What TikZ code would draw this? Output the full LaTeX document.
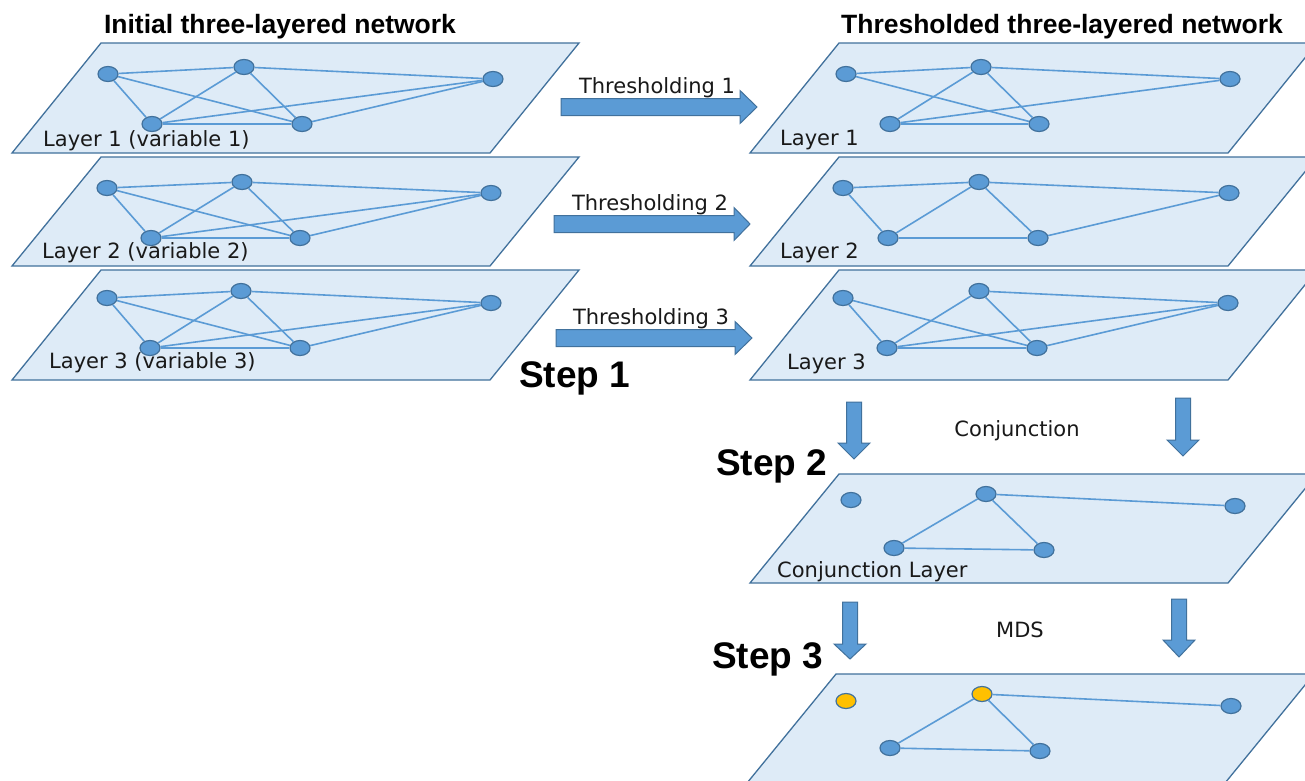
\documentclass[tikz,border=0pt]{standalone}
\usepackage{fontspec}
\setmainfont{DejaVu Sans}
\newfontfamily\titlefont{Liberation Sans}
\usetikzlibrary{shapes.geometric}
\definecolor{layerfill}{HTML}{DEEBF7}
\definecolor{layerline}{HTML}{41719C}
\definecolor{edgeblue}{HTML}{5B9BD5}
\definecolor{nodeblue}{HTML}{5B9BD5}
\definecolor{nodeline}{HTML}{41719C}
\definecolor{mdsyellow}{HTML}{FFC000}
\newcommand{\harr}[4]{\draw[blockarrow] (#1,#4-8.5) -- (#2,#4-8.5) -- (#2,#4-16.5) -- (#3,#4) -- (#2,#4+16.5) -- (#2,#4+8.5) -- (#1,#4+8.5) -- cycle;}
\newcommand{\varr}[4]{\draw[blockarrow] (#1-7.5,#2) -- (#1+7.5,#2) -- (#1+7.5,#3) -- (#1+16,#3) -- (#1,#4) -- (#1-16,#3) -- (#1-7.5,#3) -- cycle;}
\newcommand{\plate}[3]{\draw[layer] (#1,#2) -- (#1+478,#2) -- (#1+478-89,#3) -- (#1-89,#3) -- cycle;}
\begin{document}
\begin{tikzpicture}[x=1pt,y=-1pt,
 layer/.style={fill=layerfill, draw=layerline, line width=1.3pt, line join=miter},
 vert/.style={ellipse, fill=nodeblue, draw=nodeline, line width=1.2pt, minimum width=20pt, minimum height=15pt, inner sep=0pt},
 sel/.style={vert, fill=mdsyellow},
 edge/.style={draw=edgeblue, line width=1.6pt},
 blockarrow/.style={fill=nodeblue, draw=nodeline, line width=1pt, line join=miter},
 lbl/.style={font=\fontsize{21}{24}\selectfont, inner sep=0pt, text=black!90},
 title/.style={font=\titlefont\bfseries\fontsize{26.5}{30}\selectfont, inner sep=0pt},
 steplbl/.style={font=\titlefont\bfseries\fontsize{37}{42}\selectfont, inner sep=0pt, anchor=base west},
]
\path[clip] (0,0) rectangle (1305,780);
\fill[white] (0,0) rectangle (1305,780);

% titles
\node[title] (t1) at (280,27) {Initial three-layered network};
\node[title] (t2) at (1062,27) {Thresholded three-layered network};

% plates
\plate{101}{43}{153}
\plate{101}{157}{266}
\plate{101}{270}{380}
\plate{839}{43}{153}
\plate{839}{157}{266}
\plate{839}{270}{380}
\plate{839}{474}{583}
\plate{836}{674}{783}

% left layer 1
\node[vert] (A1a) at (108,74) {};
\node[vert] (A1b) at (244,67) {};
\node[vert] (A1e) at (493,79) {};
\node[vert] (A1c) at (152,124) {};
\node[vert] (A1d) at (302,124) {};
% left layer 2
\node[vert] (A2a) at (107,188) {};
\node[vert] (A2b) at (242,182) {};
\node[vert] (A2e) at (491,193) {};
\node[vert] (A2c) at (151,238) {};
\node[vert] (A2d) at (300,238) {};
% left layer 3
\node[vert] (A3a) at (107,298) {};
\node[vert] (A3b) at (241,291) {};
\node[vert] (A3e) at (491,303) {};
\node[vert] (A3c) at (150,348) {};
\node[vert] (A3d) at (300,348) {};
\foreach \L in {A1,A2,A3}{
  \foreach \u/\v in {a/b,a/c,a/d,b/c,b/d,b/e,c/d,c/e,d/e}
    \draw[edge] (\L\u) -- (\L\v);
}

% right layer 1
\node[vert] (B1a) at (846,74) {};
\node[vert] (B1b) at (981,67) {};
\node[vert] (B1e) at (1230,79) {};
\node[vert] (B1c) at (890,124) {};
\node[vert] (B1d) at (1039,124) {};
\foreach \u/\v in {a/b,b/e,a/d,b/c,b/d,c/d,c/e}
  \draw[edge] (B1\u) -- (B1\v);
% right layer 2
\node[vert] (B2a) at (843,188) {};
\node[vert] (B2b) at (979,182) {};
\node[vert] (B2e) at (1229,193) {};
\node[vert] (B2c) at (888,238) {};
\node[vert] (B2d) at (1038,238) {};
\foreach \u/\v in {a/b,b/e,a/c,b/c,b/d,c/d,d/e}
  \draw[edge] (B2\u) -- (B2\v);
% right layer 3
\node[vert] (B3a) at (843,298) {};
\node[vert] (B3b) at (979,291) {};
\node[vert] (B3e) at (1228,303) {};
\node[vert] (B3c) at (887,348) {};
\node[vert] (B3d) at (1037,348) {};
\foreach \u/\v in {a/c,a/d,b/c,b/d,b/e,c/d,c/e,d/e}
  \draw[edge] (B3\u) -- (B3\v);
% conjunction layer
\node[vert] (Ca) at (851,500) {};
\node[vert] (Cb) at (986,494) {};
\node[vert] (Ce) at (1235,506) {};
\node[vert] (Cc) at (894,548) {};
\node[vert] (Cd) at (1044,550) {};
\foreach \u/\v in {b/e,b/c,b/d,c/d}
  \draw[edge] (C\u) -- (C\v);
% MDS layer
\node[sel] (Ma) at (846,701) {};
\node[sel] (Mb) at (982,694) {};
\node[vert] (Me) at (1231,706) {};
\node[vert] (Mc) at (890,748) {};
\node[vert] (Md) at (1040,751) {};
\foreach \u/\v in {b/e,b/c,b/d,c/d}
  \draw[edge] (M\u) -- (M\v);

% layer labels
\node[lbl,anchor=west] (la1) at (43,141) {Layer 1 (variable 1)};
\node[lbl,anchor=west] (la2) at (42,253) {Layer 2 (variable 2)};
\node[lbl,anchor=west] (la3) at (49,363) {Layer 3 (variable 3)};
\node[lbl,anchor=west] (lb1) at (780,140) {Layer 1};
\node[lbl,anchor=west] (lb2) at (780,253) {Layer 2};
\node[lbl,anchor=west] (lb3) at (787,364) {Layer 3};
\node[lbl,anchor=west] (lc) at (777,572) {Conjunction Layer};

% block arrows
\harr{561}{740}{757}{107}
\harr{554}{734}{750}{224}
\harr{556}{735}{752}{338}
\varr{854}{402}{443}{459}
\varr{1183}{398}{440}{456}
\varr{850}{602}{644}{659}
\varr{1179}{599}{640}{657}

% arrow labels
\node[lbl] (th1) at (657,88) {Thresholding 1};
\node[lbl] (th2) at (650,205) {Thresholding 2};
\node[lbl] (th3) at (651,319) {Thresholding 3};
\node[lbl] (cj) at (1017,431) {Conjunction};
\node[lbl] (mds) at (1020,630) {MDS};

% steps
\node[steplbl] (s1) at (519,387) {Step 1};
\node[steplbl] (s2) at (716,475) {Step 2};
\node[steplbl] (s3) at (712,668) {Step 3};
\end{tikzpicture}
\end{document}
